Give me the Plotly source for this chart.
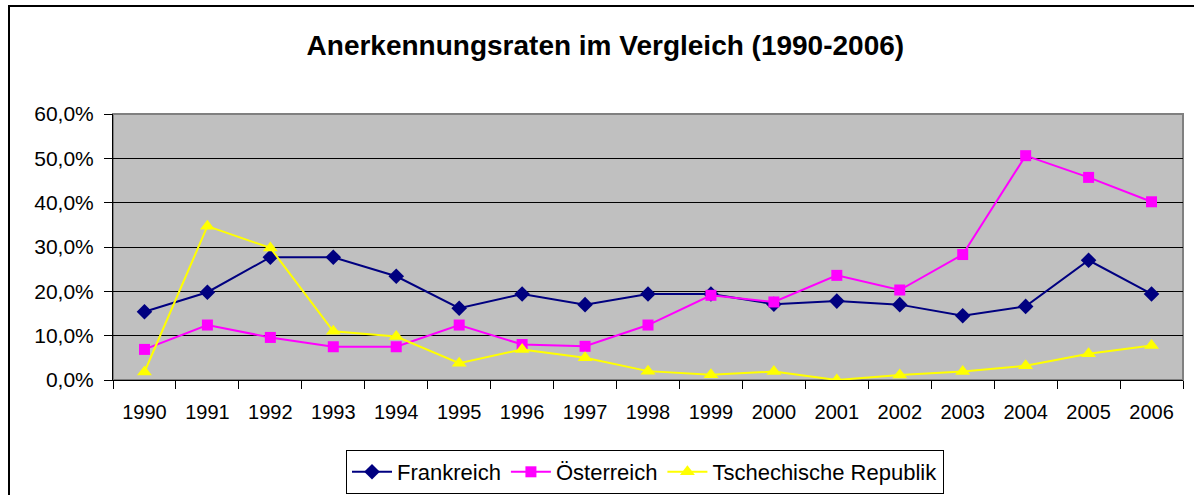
import plotly.graph_objects as go

years = ["1990", "1991", "1992", "1993", "1994", "1995", "1996", "1997", "1998",
         "1999", "2000", "2001", "2002", "2003", "2004", "2005", "2006"]
frankreich = [0.154, 0.198, 0.277, 0.277, 0.234, 0.162, 0.194, 0.170, 0.194,
              0.194, 0.171, 0.178, 0.170, 0.145, 0.166, 0.270, 0.194]
oesterreich = [0.069, 0.124, 0.096, 0.075, 0.075, 0.124, 0.080, 0.076, 0.124,
               0.191, 0.176, 0.236, 0.203, 0.283, 0.506, 0.457, 0.402]
tschechien = [0.018, 0.347, 0.298, 0.110, 0.098, 0.038, 0.069, 0.050, 0.020,
              0.012, 0.019, 0.000, 0.011, 0.019, 0.032, 0.059, 0.078]
y_ticks = [0, 0.1, 0.2, 0.3, 0.4, 0.5, 0.6]

FONT = "Liberation Sans, Arial, sans-serif"

fig = go.Figure()
fig.add_trace(go.Scatter(x=years, y=frankreich, name="Frankreich", mode="lines+markers",
                         line=dict(color="#000080", width=2),
                         marker=dict(symbol="diamond", size=12, color="#000080")))
fig.add_trace(go.Scatter(x=years, y=oesterreich, name="Österreich", mode="lines+markers",
                         line=dict(color="#FF00FF", width=2),
                         marker=dict(symbol="square", size=11, color="#FF00FF")))
fig.add_trace(go.Scatter(x=years, y=tschechien, name="Tschechische Republik", mode="lines+markers",
                         line=dict(color="#FFFF00", width=2),
                         marker=dict(symbol="triangle-up", size=13, color="#FFFF00")))

L, R, T, B = 113, 11, 114, 115
W, H = 1194, 495
pw = W - L - R
ph = H - T - B

def px_x(p):
    return (p - L) / pw

def px_y(p):
    return (H - B - p) / ph

fig.update_layout(
    width=W, height=H,
    margin=dict(l=L, r=R, t=T, b=B, autoexpand=False),
    paper_bgcolor="white",
    plot_bgcolor="#C0C0C0",
    separators=",.",
    font=dict(family=FONT, size=20, color="black"),
    title=dict(text="<b>Anerkennungsraten im Vergleich (1990-2006)</b>",
               x=0.507, xref="container", y=1 - 45 / H, yref="container",
               xanchor="center", yanchor="middle",
               font=dict(family=FONT, size=28, color="black")),
    showlegend=True,
    legend=dict(orientation="h", xref="container", x=645 / W, xanchor="center",
                yref="container", y=1 - 472 / H, yanchor="middle",
                bordercolor="black", borderwidth=1, bgcolor="white",
                font=dict(family=FONT, size=22, color="black"),
                itemwidth=40, tracegroupgap=0),
    xaxis=dict(type="category", range=[-0.5, len(years) - 0.5], tickson="boundaries",
               ticks="outside", ticklen=8,
               tickcolor="black", showline=True, linecolor="black", linewidth=1,
               showgrid=False, tickfont=dict(size=20), ticklabelstandoff=14),
    yaxis=dict(range=[0, 0.6], tickvals=y_ticks, tickformat=".1%", ticks="outside",
               ticklen=8, tickcolor="black", showline=True, linecolor="black",
               linewidth=1, showgrid=True, gridcolor="black", gridwidth=1,
               zeroline=False, tickfont=dict(size=21), ticklabelstandoff=6),
    shapes=[
        dict(type="rect", xref="paper", yref="paper", x0=0, x1=1, y0=0, y1=1,
             line=dict(color="#808080", width=2), layer="below"),
        dict(type="rect", xref="paper", yref="paper", x0=px_x(9), x1=px_x(1210),
             y0=px_y(510), y1=px_y(6), line=dict(color="black", width=2),
             fillcolor="rgba(0,0,0,0)"),
    ],
)

fig.write_html("out.html", config={"displayModeBar": False},
               post_script="document.body.style.margin='0';")
